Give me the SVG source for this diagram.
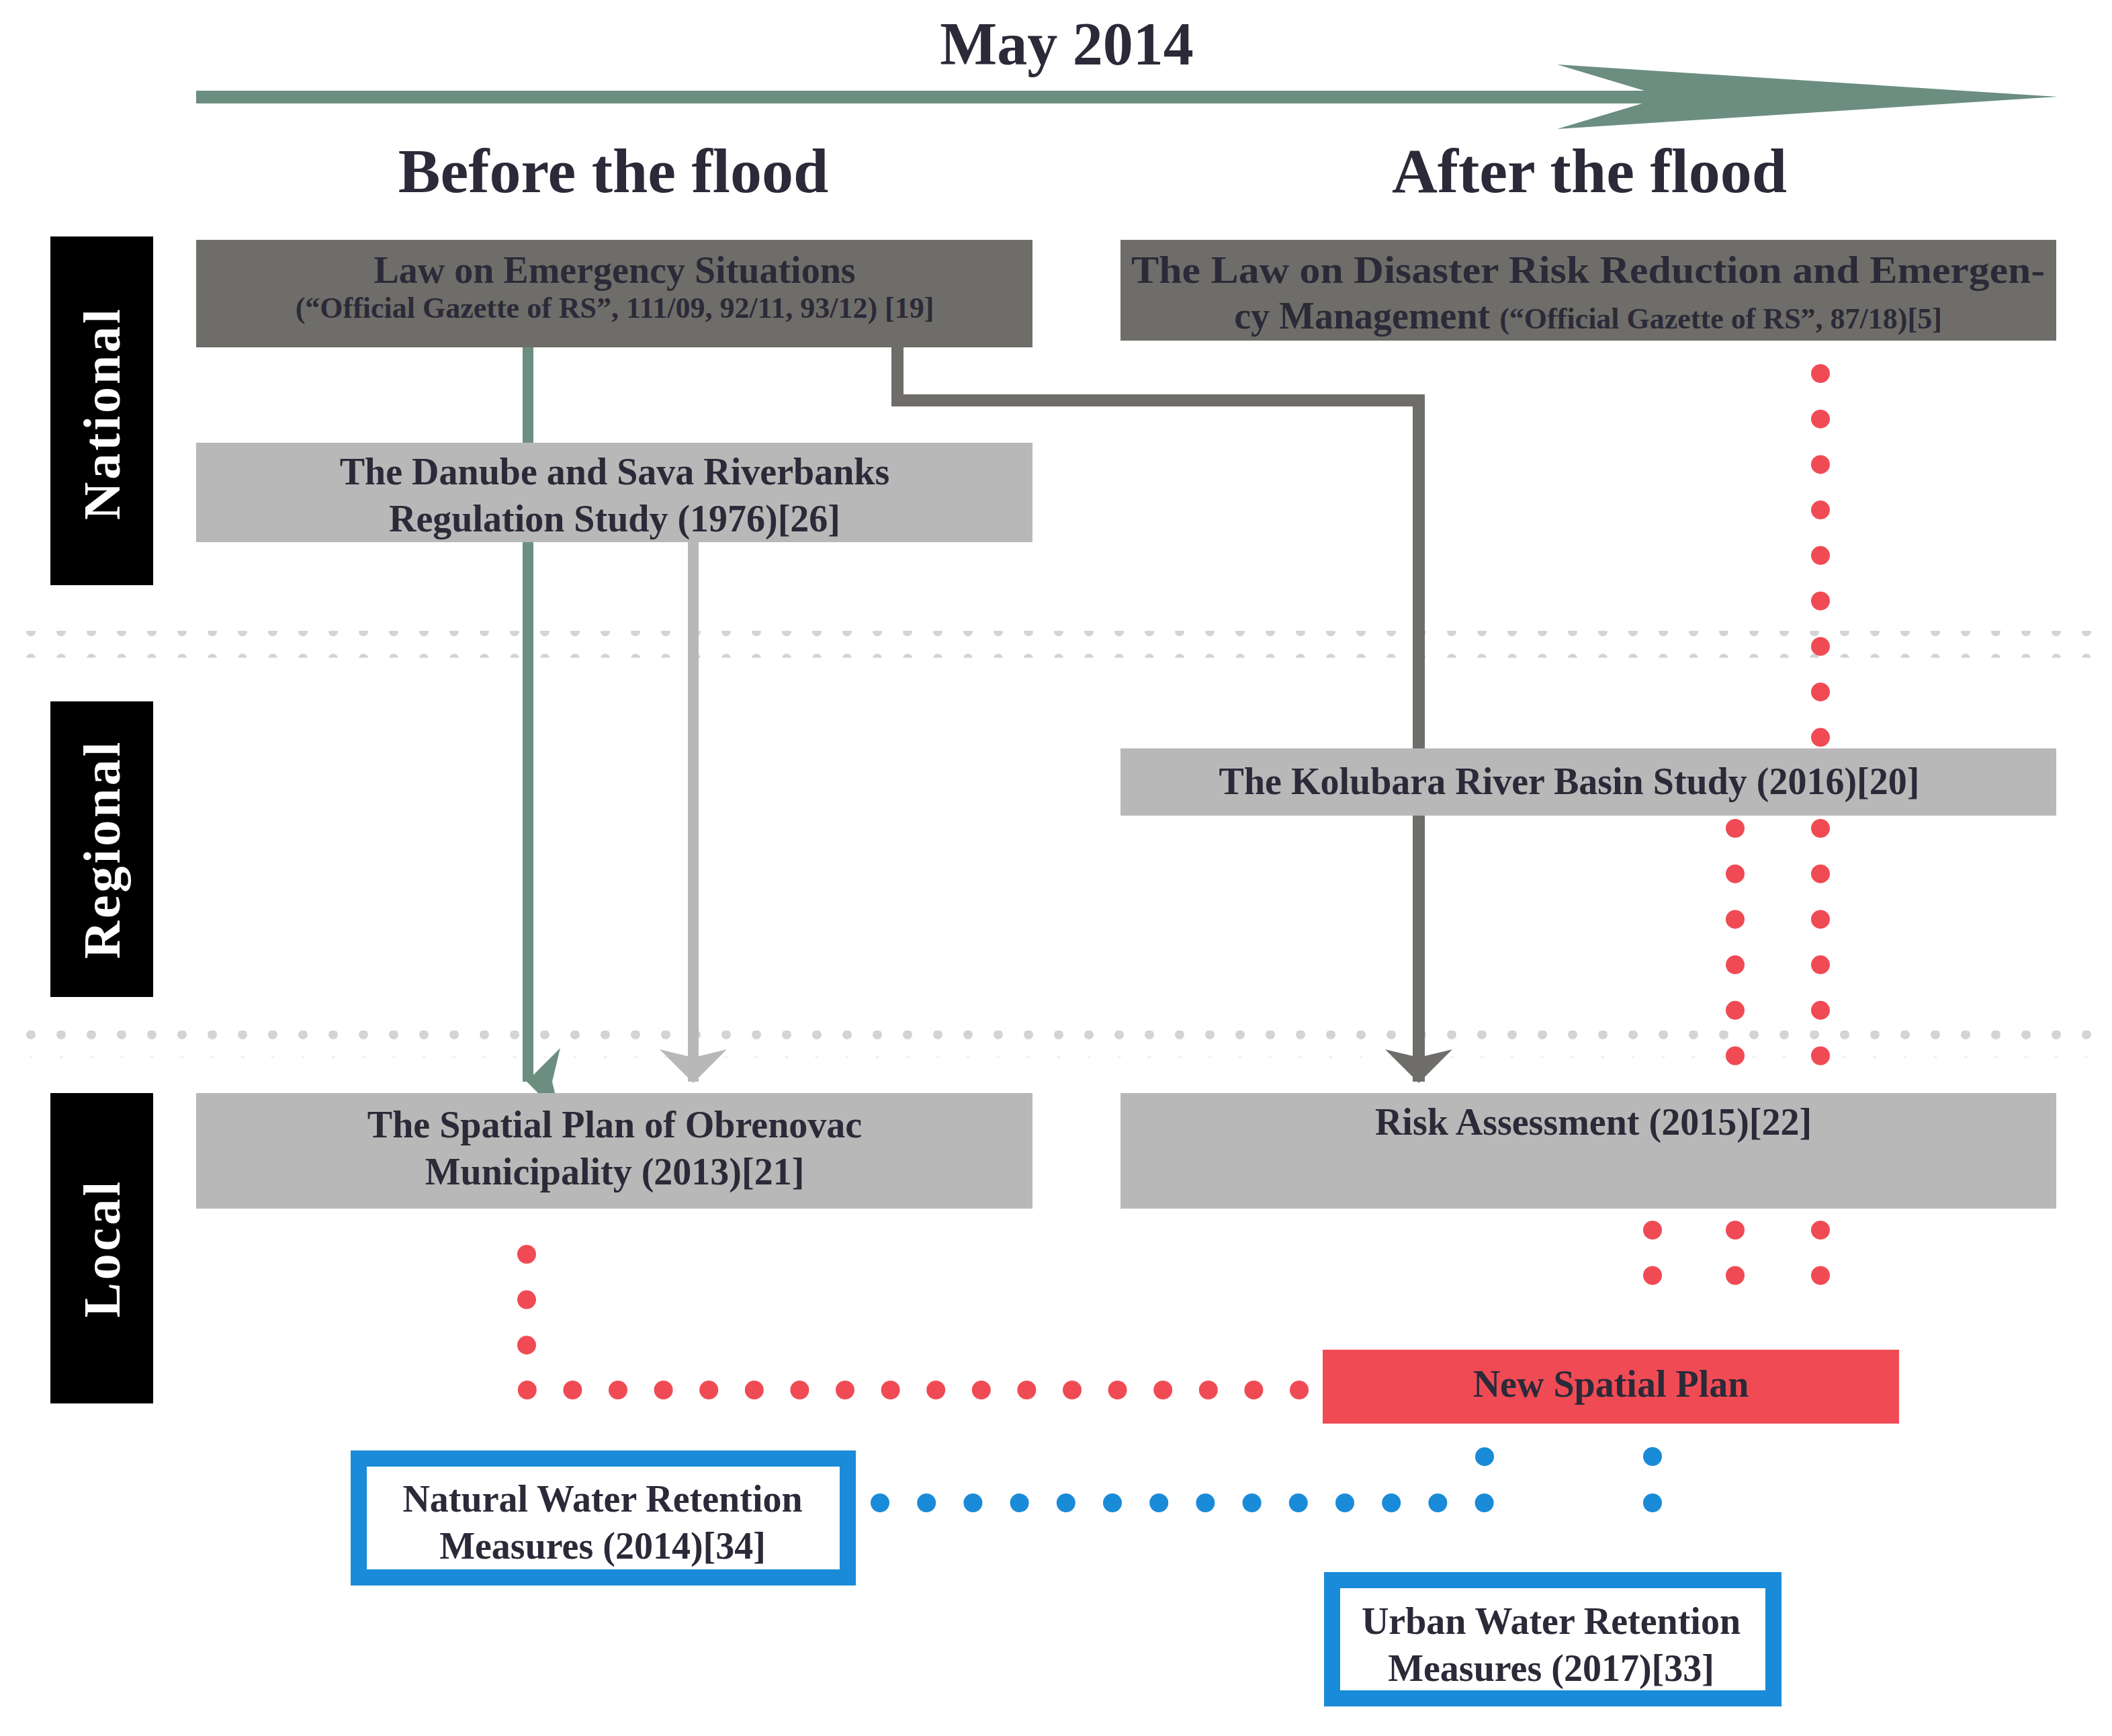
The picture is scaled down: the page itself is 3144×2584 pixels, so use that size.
<svg xmlns="http://www.w3.org/2000/svg" width="3144" height="2584" viewBox="0 0 3144 2584">
<style>
text{font-family:"Liberation Serif","DejaVu Serif",serif;font-weight:bold;fill:#2b2a38;text-anchor:middle}
.t{font-size:56px}.s{font-size:44px}.h{font-size:94px}
.lab{font-size:78px;fill:#fff;letter-spacing:4px}
.red{fill:#f04b55}.blue{fill:#1a8bd8}.gdot{fill:#d4d4d4}
</style>
<defs>
<marker id="ag" viewBox="0 0 100 50" refX="50" refY="48" markerWidth="100" markerHeight="50" markerUnits="userSpaceOnUse" orient="auto-start-reverse"><path d="M0,0 L50,12 L100,0 L50,50 Z" fill="#6b8e80" transform="rotate(0)"/></marker>
<marker id="al" viewBox="0 0 100 50" refX="50" refY="48" markerWidth="100" markerHeight="50" markerUnits="userSpaceOnUse"><path d="M0,0 L50,12 L100,0 L50,50 Z" fill="#b8b8b8"/></marker>
<marker id="ad" viewBox="0 0 100 50" refX="50" refY="48" markerWidth="100" markerHeight="50" markerUnits="userSpaceOnUse"><path d="M0,0 L50,12 L100,0 L50,50 Z" fill="#6f6d69"/></marker>
<pattern id="gd" x="36" y="0" width="45" height="40" patternUnits="userSpaceOnUse"><circle cx="10" cy="20" r="7" class="gdot"/></pattern>
</defs>
<g id="timeline">
<text x="1588" y="96" style="font-size:90px">May 2014</text>
<rect x="292" y="135" width="2200" height="19" fill="#6b8e80"/>
<polygon points="2318,96 3063,144 2318,192 2478,144" fill="#6b8e80"/>
<text class="h" x="913" y="286">Before the flood</text>
<text class="h" x="2366" y="286">After the flood</text>
</g>
<g id="bands">
<rect x="36" y="939" width="3090" height="40" fill="url(#gd)"/>
<rect x="36" y="1534" width="3090" height="40" fill="url(#gd)"/>
<rect x="75" y="352" width="153" height="519" fill="#000"/>
<text class="lab" transform="translate(178,615) rotate(-90)">National</text>
<rect x="75" y="1044" width="153" height="440" fill="#000"/>
<text class="lab" transform="translate(178,1264) rotate(-90)">Regional</text>
<rect x="75" y="1627" width="153" height="462" fill="#000"/>
<text class="lab" transform="translate(178,1858) rotate(-90)">Local</text>
</g>
<g id="connectors" fill="none">
<path d="M786,517 V1610" stroke="#6b8e80" stroke-width="16" marker-end="url(#ag)"/>
<path d="M1032,807 V1610" stroke="#b8b8b8" stroke-width="16" marker-end="url(#al)"/>
<path d="M1336,517 V596 H2112 V1610" stroke="#6f6d69" stroke-width="18" marker-end="url(#ad)"/>
<path d="M2710,556 V1572" stroke="#f04b55" stroke-width="28" stroke-linecap="round" stroke-dasharray="0 67.7"/>
<path d="M2583,1233 V1572" stroke="#f04b55" stroke-width="28" stroke-linecap="round" stroke-dasharray="0 67.7"/>
<path d="M2460,1831 V1966 M2583,1831 V1966 M2710,1831 V1966" stroke="#f04b55" stroke-width="28" stroke-linecap="round" stroke-dasharray="0 67.5"/>
<path d="M784,1867 V2069 H1936" stroke="#f04b55" stroke-width="28" stroke-linecap="round" stroke-dasharray="0 67.6"/>
<path d="M1310,2237 H2210 V2168" stroke="#1a8bd8" stroke-width="28" stroke-linecap="round" stroke-dasharray="0 69.2"/>
<path d="M2460,2168 V2306" stroke="#1a8bd8" stroke-width="28" stroke-linecap="round" stroke-dasharray="0 69"/>
</g>
<g id="law-emergency">
<rect x="292" y="357" width="1245" height="160" fill="#6f6d69"/>
<text class="t" x="915" y="421">Law on Emergency Situations</text>
<text class="s" x="915" y="473">(“Official Gazette of RS”, 111/09, 92/11, 93/12) [19]</text>
</g>
<g id="law-drr">
<rect x="1668" y="357" width="1393" height="150" fill="#6f6d69"/>
<text class="t" x="2364" y="421" textLength="1360" lengthAdjust="spacingAndGlyphs">The Law on Disaster Risk Reduction and Emergen-</text>
<text x="2364" y="489"><tspan class="t">cy Management </tspan><tspan class="s">(“Official Gazette of RS”, 87/18)[5]</tspan></text>
</g>
<g id="danube">
<rect x="292" y="659" width="1245" height="148" fill="#b8b8b8"/>
<text class="t" x="915" y="721">The Danube and Sava Riverbanks</text>
<text class="t" x="915" y="791">Regulation Study (1976)[26]</text>
</g>
<g id="kolubara">
<rect x="1668" y="1114" width="1393" height="100" fill="#b8b8b8"/>
<text class="t" x="2336" y="1182">The Kolubara River Basin Study (2016)[20]</text>
</g>
<g id="spatial-plan">
<rect x="292" y="1627" width="1245" height="172" fill="#b8b8b8"/>
<text class="t" x="915" y="1693">The Spatial Plan of Obrenovac</text>
<text class="t" x="915" y="1763">Municipality (2013)[21]</text>
</g>
<g id="risk">
<rect x="1668" y="1627" width="1393" height="172" fill="#b8b8b8"/>
<text class="t" x="2372" y="1689">Risk Assessment (2015)[22]</text>
</g>
<g id="new-plan">
<rect x="1969" y="2009" width="858" height="110" fill="#f04b55"/>
<text class="t" x="2398" y="2079">New Spatial Plan</text>
</g>
<g id="nwrm">
<rect x="534" y="2171" width="728" height="177" fill="#fff" stroke="#1a8bd8" stroke-width="24"/>
<text class="t" x="897" y="2250">Natural Water Retention</text>
<text class="t" x="897" y="2320">Measures (2014)[34]</text>
</g>
<g id="uwrm">
<rect x="1983" y="2352" width="657" height="176" fill="#fff" stroke="#1a8bd8" stroke-width="24"/>
<text class="t" x="2309" y="2432">Urban Water Retention</text>
<text class="t" x="2309" y="2502">Measures (2017)[33]</text>
</g>
</svg>
